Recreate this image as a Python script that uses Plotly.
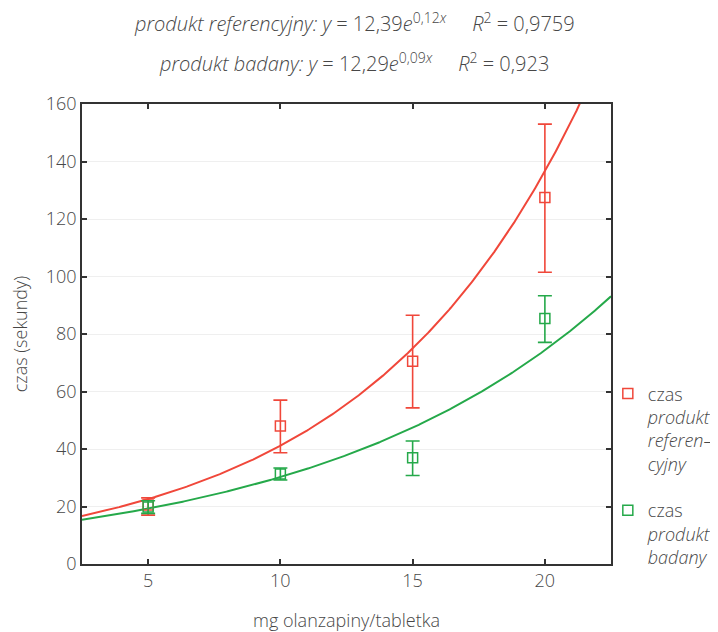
import numpy as np
import plotly.graph_objects as go

# data
doses = [5, 10, 15, 20]
ref_mean = [20.5, 48.0, 70.5, 127.5]
ref_hi = [23.0, 57.0, 86.5, 153.0]
ref_lo = [17.0, 38.7, 54.3, 101.5]
bad_mean = [19.8, 31.3, 37.0, 85.4]
bad_hi = [22.0, 33.4, 42.8, 93.3]
bad_lo = [17.6, 29.2, 30.8, 77.1]

ref_a, ref_b = 12.39, 0.12
bad_a, bad_b = 12.29, 0.09

x_range = [2.5, 22.5]
y_ticks = [0, 20, 40, 60, 80, 100, 120, 140, 160]
x_ticks = [5, 10, 15, 20]

RED = "#f0473a"
GREEN = "#25a94a"
FONT = "Open Sans"
TXT = "#474747"

xs = np.linspace(x_range[0], x_range[1], 400)

fig = go.Figure()

fig.add_trace(go.Scatter(x=xs, y=ref_a * np.exp(ref_b * xs), mode="lines",
                         line=dict(color=RED, width=2), showlegend=False, hoverinfo="skip"))
fig.add_trace(go.Scatter(x=xs, y=bad_a * np.exp(bad_b * xs), mode="lines",
                         line=dict(color=GREEN, width=2), showlegend=False, hoverinfo="skip"))

def add_points(mean, hi, lo, color, name, group):
    fig.add_trace(go.Scatter(
        x=doses, y=mean, mode="markers", name=name, legendgroup=group,
        marker=dict(symbol="square-open", size=10, color=color, line=dict(width=1.5, color=color)),
        error_y=dict(type="data", symmetric=False,
                     array=[h - m for h, m in zip(hi, mean)],
                     arrayminus=[m - l for m, l in zip(mean, lo)],
                     color=color, thickness=1.6, width=7),
    ))

add_points(ref_mean, ref_hi, ref_lo, RED, "czas<br><i>produkt<br>referen–<br>cyjny</i>", "ref")
add_points(bad_mean, bad_hi, bad_lo, GREEN, "czas<br><i>produkt<br>badany</i>", "bad")

tfont = dict(family=FONT, size=18, color=TXT, weight=300)

axis_common = dict(showline=True, linecolor="#333333", linewidth=1.5, mirror="ticks",
                   ticks="inside", ticklen=5, tickcolor="#333333", tickwidth=1.5,
                   zeroline=False, tickfont=tfont, automargin=False)

fig.update_xaxes(range=x_range, tickvals=x_ticks, showgrid=False,
                 title=dict(text="mg olanzapiny/tabletka", font=tfont, standoff=23),
                 **axis_common)
fig.update_yaxes(range=[0, 160], tickvals=y_ticks, showgrid=True, gridcolor="#efefef", gridwidth=1,
                 title=dict(text="czas (sekundy)", font=tfont, standoff=16),
                 **axis_common)

fig.add_annotation(xref="paper", yref="paper", x=0.515, y=1.178, yanchor="middle", showarrow=False,
                   text="<i>produkt referencyjny: y</i> = 12,39<i>e</i><sup>0,12<i>x</i></sup>     <i>R</i><sup>2</sup> = 0,9759",
                   font=dict(family=FONT, size=20, color=TXT, weight=300))
fig.add_annotation(xref="paper", yref="paper", x=0.515, y=1.09, yanchor="middle", showarrow=False,
                   text="<i>produkt badany: y</i> = 12,29<i>e</i><sup>0,09<i>x</i></sup>     <i>R</i><sup>2</sup> = 0,923",
                   font=dict(family=FONT, size=20, color=TXT, weight=300))

fig.update_layout(
    width=710, height=624,
    margin=dict(l=74, r=107, t=96, b=68, autoexpand=False),
    paper_bgcolor="white", plot_bgcolor="white",
    font=dict(family=FONT, color=TXT),
    legend=dict(x=0.994, y=0.41, xanchor="left", yanchor="top",
                font=tfont,
                tracegroupgap=20, itemwidth=30, valign="top", bgcolor="rgba(0,0,0,0)"),
)

fig.write_html("out.html")
